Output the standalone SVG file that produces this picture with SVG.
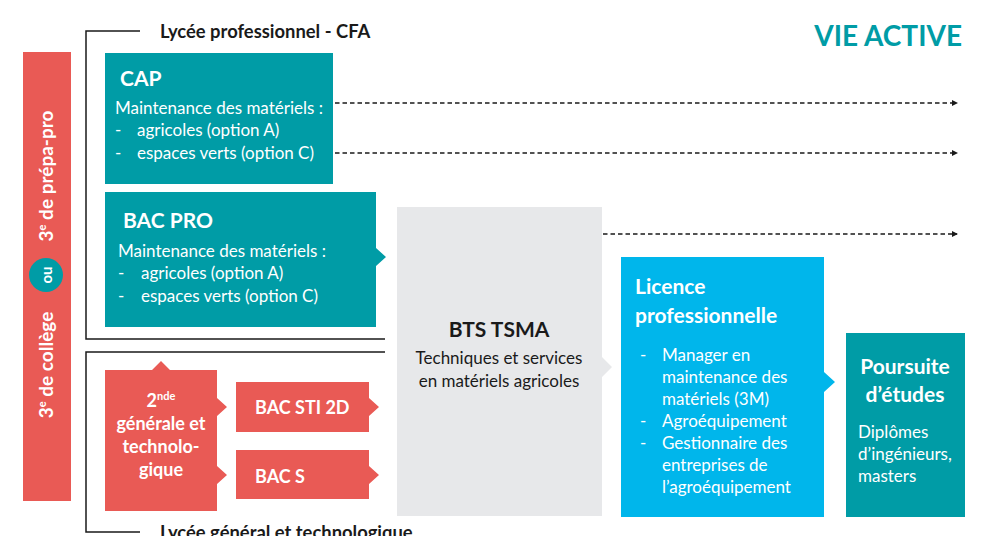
<svg xmlns="http://www.w3.org/2000/svg" width="986" height="536" viewBox="0 0 986 536">
<style>
text{font-family:Lato,"Open Sans","Liberation Sans",sans-serif;}
.h{font-size:21px;font-weight:bold;fill:#ffffff;}
.t{font-size:17px;fill:#ffffff;}
.k{font-size:17px;fill:#1a1a1a;}
.rb{font-size:18px;font-weight:bold;fill:#ffffff;}
.teal{fill:#009ca6;}
.red{fill:#e95a55;}
.cyan{fill:#00b6eb;}
.grey{fill:#e7e8ea;}
.br{fill:none;stroke:#1a1a1a;stroke-width:1.5;}
.dash{fill:none;stroke:#1a1a1a;stroke-width:1.3;stroke-dasharray:4.5 3;}
</style>
<defs>
<marker id="ah" markerWidth="6" markerHeight="6" refX="5" refY="3" orient="auto" markerUnits="userSpaceOnUse">
<path d="M0,0 L6,3 L0,6 Z" fill="#1a1a1a"/>
</marker>
</defs>
<rect width="986" height="536" fill="#ffffff"/>

<g id="vie-active"><text x="962" y="46" text-anchor="end" font-size="28" font-weight="bold" fill="#009ca6">VIE ACTIVE</text></g>

<g id="brackets">
<path class="br" d="M140,31 H86 V339 H385"/>
<text x="160" y="38" font-size="18.4" font-weight="bold" fill="#1a1a1a">Lycée professionnel - CFA</text>
<path class="br" d="M385,352 H86 V532 H140"/>
<text x="160" y="539" font-size="18.4" font-weight="bold" fill="#1a1a1a">Lycée général et technologique</text>
</g>

<g id="troisieme">
<rect class="red" x="23" y="52" width="48" height="449"/>
<circle cx="46" cy="275" r="17" fill="#009ca6"/>
<text transform="translate(52,275) rotate(-90)" text-anchor="middle" font-size="15" font-weight="bold" fill="#fff">ou</text>
<text transform="translate(53,176) rotate(-90)" text-anchor="middle" font-size="19" font-weight="bold" fill="#fff">3<tspan font-size="11" dy="-7">e</tspan><tspan dy="7"> de prépa-pro</tspan></text>
<text transform="translate(53,365) rotate(-90)" text-anchor="middle" font-size="19" font-weight="bold" fill="#fff">3<tspan font-size="11" dy="-7">e</tspan><tspan dy="7"> de collège</tspan></text>
</g>

<g id="cap">
<rect class="teal" x="105" y="53" width="228" height="131"/>
<text class="h" x="120" y="86">CAP</text>
<text class="t" x="115" y="114">Maintenance des matériels :</text>
<text class="t" x="115" y="136">-</text><text class="t" x="137" y="136">agricoles (option A)</text>
<text class="t" x="115" y="159">-</text><text class="t" x="137" y="159">espaces verts (option C)</text>
</g>

<g id="bacpro">
<path class="teal" d="M105,192 H376 V248 L386,257 L376,266 V327 H105 Z"/>
<text class="h" x="123" y="228">BAC PRO</text>
<text class="t" x="118" y="257">Maintenance des matériels :</text>
<text class="t" x="118" y="279">-</text><text class="t" x="141" y="279">agricoles (option A)</text>
<text class="t" x="118" y="302">-</text><text class="t" x="141" y="302">espaces verts (option C)</text>
</g>

<g id="seconde">
<path class="red" d="M105,370 H152 L161,361 L170,370 H217 V398 L227,407 L217,416 V466 L227,475 L217,484 V511 H105 Z"/>
<text class="rb" text-anchor="middle"><tspan x="161" y="407">2<tspan font-size="11" dy="-7">nde</tspan></tspan><tspan x="161" y="430">générale et</tspan><tspan x="161" y="453">technolo-</tspan><tspan x="161" y="476">gique</tspan></text>
</g>

<g id="bacsti">
<path class="red" d="M236,382 H369 V398 L379,407 L369,416 V432 H236 Z"/>
<text class="rb" x="255" y="414">BAC STI 2D</text>
</g>

<g id="bacs">
<path class="red" d="M236,450 H369 V466 L379,475 L369,484 V499 H236 Z"/>
<text class="rb" x="255" y="483">BAC S</text>
</g>

<g id="bts">
<path class="grey" d="M397,207 H602 V357 L612,367 L602,377 V516 H397 Z"/>
<text x="499" y="337" text-anchor="middle" font-size="21" font-weight="bold" fill="#1a1a1a">BTS TSMA</text>
<text class="k" x="499" y="364" text-anchor="middle">Techniques et services</text>
<text class="k" x="499" y="387" text-anchor="middle">en matériels agricoles</text>
</g>

<g id="licence">
<path class="cyan" d="M621,257 H824 V372 L835,382 L824,392 V517 H621 Z"/>
<text class="h" x="635" y="294" font-size="22.5">Licence</text>
<text class="h" x="635" y="323" font-size="22.5">professionnelle</text>
<text class="t" x="640" y="361">-</text><text class="t" x="662" y="361">Manager en</text>
<text class="t" x="662" y="383">maintenance des</text>
<text class="t" x="662" y="405">matériels (3M)</text>
<text class="t" x="640" y="427">-</text><text class="t" x="662" y="427">Agroéquipement</text>
<text class="t" x="640" y="449">-</text><text class="t" x="662" y="449">Gestionnaire des</text>
<text class="t" x="662" y="471">entreprises de</text>
<text class="t" x="662" y="493">l’agroéquipement</text>
</g>

<g id="poursuite">
<rect class="teal" x="846" y="333" width="119" height="184"/>
<text class="h" x="905" y="374" text-anchor="middle" font-size="22.5">Poursuite</text>
<text class="h" x="905" y="402" text-anchor="middle" font-size="22.5">d’études</text>
<text class="t" x="858" y="438">Diplômes</text>
<text class="t" x="858" y="460">d’ingénieurs,</text>
<text class="t" x="858" y="482">masters</text>
</g>

<g id="connectors">
<line class="dash" x1="335" y1="103" x2="957" y2="103" marker-end="url(#ah)"/>
<line class="dash" x1="335" y1="153" x2="957" y2="153" marker-end="url(#ah)"/>
<line class="dash" x1="603" y1="234" x2="957" y2="234" marker-end="url(#ah)"/>
</g>
</svg>
